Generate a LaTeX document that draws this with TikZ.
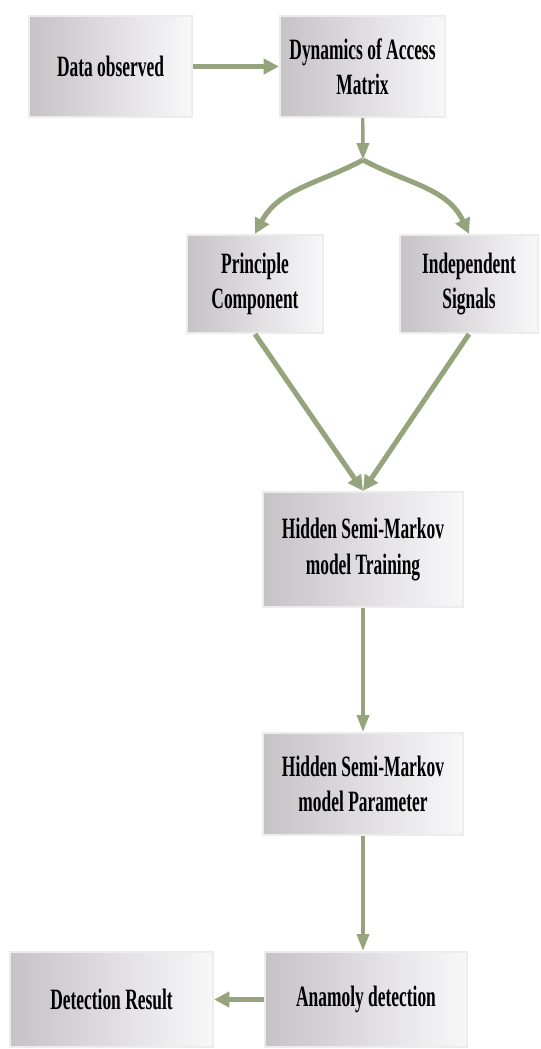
\documentclass[tikz,border=0pt]{standalone}
\usepackage{fontspec}
\newfontfamily\boxfont[FakeStretch=0.59]{Liberation Serif}
\usetikzlibrary{arrows.meta, shadows}

\begin{document}
\begin{tikzpicture}[scale=1.0, every node/.style={inner sep=0pt}]
  \tikzset{box/.style={rectangle, draw={rgb,255:red,236;green,236;blue,236}, line width=1.6pt, left color={rgb,255:red,198;green,194;blue,198}, right color={rgb,255:red,248;green,248;blue,249}, drop shadow={opacity=0.18, shadow xshift=0.6pt, shadow yshift=-0.9pt}, align=center, font=\boxfont\bfseries\fontsize{21}{25}\selectfont}}
  \tikzset{F/.style={draw={rgb,255:red,150;green,164;blue,125}, line width=3.6pt, -{Triangle[length=0.38cm, width=0.38cm]}}}
  \tikzset{T/.style={draw={rgb,255:red,150;green,164;blue,125}, line width=2.4pt, -{Triangle[length=0.42cm, width=0.3cm]}}}
  \useasboundingbox (0.0000, 0.0000) rectangle (13.5000, 26.2250);
  \node[box, minimum width=4.0750cm, minimum height=2.5250cm] (obs) at (2.7625, 24.5625) {Data observed};
  \node[box, minimum width=4.1250cm, minimum height=2.5250cm] (dyn) at (9.0625, 24.5625) {Dynamics of Access\\Matrix};
  \coordinate (split) at (9.0750, 22.2250);
  \node[box, minimum width=3.4000cm, minimum height=2.4500cm] (pc) at (6.3750, 19.1250) {Principle\\Component};
  \node[box, minimum width=3.4500cm, minimum height=2.4500cm] (ind) at (11.7250, 19.1250) {Independent\\Signals};
  \node[box, minimum width=5.0000cm, minimum height=2.8750cm] (hsmmT) at (9.0750, 12.4875) {Hidden Semi-Markov\\model Training};
  \node[box, minimum width=5.0000cm, minimum height=2.5500cm] (hsmmP) at (9.0750, 6.6250) {Hidden Semi-Markov\\model Parameter};
  \node[box, minimum width=5.0500cm, minimum height=2.3750cm] (anom) at (9.1500, 1.2375) {Anamoly detection};
  \node[box, minimum width=5.0750cm, minimum height=2.3750cm] (det) at (2.7875, 1.2375) {Detection Result};
  % arrows
  \draw[F] (obs) -- (dyn);
  \draw[T] (dyn) -- (split);
  \draw[F] (split) to[out=208, in=62] (pc.north);
  \draw[F] (split) to[out=-28, in=115] (ind.north);
  \draw[F] (pc.south) -- (hsmmT.north);
  \draw[F] (ind.south) -- (hsmmT.north);
  \draw[T] (hsmmT) -- (hsmmP);
  \draw[T] (hsmmP.south) -- (hsmmP.south |- anom.north);
  \draw[F] (anom) -- (det);
\end{tikzpicture}
\end{document}
